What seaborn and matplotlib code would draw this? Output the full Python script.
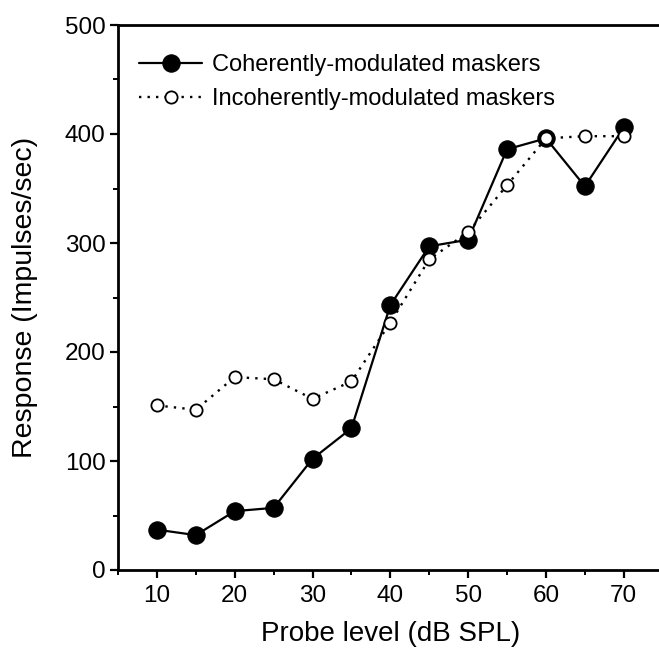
import matplotlib
matplotlib.use("Agg")
import matplotlib.pyplot as plt
from matplotlib.ticker import MultipleLocator
import seaborn as sns
import pandas as pd

# Probe levels (dB SPL) and mean discharge rates for the two masker conditions
probe_level = [10, 15, 20, 25, 30, 35, 40, 45, 50, 55, 60, 65, 70]
coherent = [37, 32, 54, 57, 102, 130, 243, 297, 303, 386, 396, 352, 406]
incoherent = [151, 147, 177, 175, 157, 173, 227, 285, 310, 353, 396, 398, 398]
series_labels = ["Coherently-modulated maskers", "Incoherently-modulated maskers"]

df = pd.DataFrame({"level": probe_level, "coh": coherent, "incoh": incoherent})

sns.set_theme(style="ticks")
plt.rcParams["font.family"] = ["Liberation Sans", "DejaVu Sans"]

fig = plt.figure(figsize=(6.59, 6.50), dpi=100)
ax = fig.add_axes([118 / 659, 80 / 650, 544.7 / 659, 545 / 650])

sns.lineplot(data=df, x="level", y="coh", ax=ax, color="black",
             linestyle="-", linewidth=1.6, marker="o", markersize=12.5,
             markerfacecolor="black", markeredgecolor="black",
             label=series_labels[0], zorder=3)
sns.lineplot(data=df, x="level", y="incoh", ax=ax, color="black",
             linestyle=(0, (1, 2.6)), linewidth=1.7, marker="o", markersize=8.8,
             markerfacecolor="white", markeredgecolor="black",
             markeredgewidth=1.3, label=series_labels[1], zorder=4)

ax.set_xlim(5, 75)
ax.set_ylim(0, 500)
ax.xaxis.set_major_locator(MultipleLocator(10))
ax.xaxis.set_minor_locator(MultipleLocator(5))
ax.yaxis.set_major_locator(MultipleLocator(100))
ax.yaxis.set_minor_locator(MultipleLocator(50))

for side in ["left", "bottom", "top"]:
    ax.spines[side].set_visible(True)
    ax.spines[side].set_linewidth(2.0)
    ax.spines[side].set_color("black")
ax.spines["right"].set_visible(False)

ax.tick_params(axis="both", which="major", direction="out", length=6, width=1.6,
               labelsize=17.5, colors="black", pad=3)
ax.tick_params(axis="both", which="minor", direction="out", length=3.5, width=1.4,
               colors="black")
ax.tick_params(axis="x", which="major", pad=5)
ax.tick_params(top=False, right=False, which="both")

ax.set_xlabel("Probe level (dB SPL)", fontsize=20, color="black", labelpad=10)
ax.set_ylabel("Response (Impulses/sec)", fontsize=20.5, color="black", labelpad=19)

leg = ax.legend(loc="upper left", bbox_to_anchor=(0.038, 0.946), frameon=False,
                fontsize=17, handlelength=2.7, handletextpad=0.4,
                labelspacing=0.5, borderpad=0, borderaxespad=0)
for t in leg.get_texts():
    t.set_color("black")

fig.savefig("out.png", dpi=100, facecolor="white")
